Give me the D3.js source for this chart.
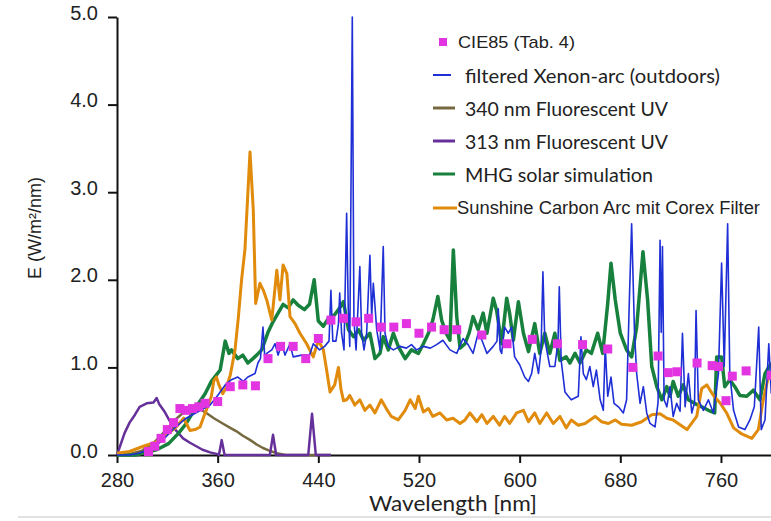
<!DOCTYPE html>
<html>
<head>
<meta charset="utf-8">
<script src="https://cdn.jsdelivr.net/npm/d3@7"></script>
<style>
  body { margin: 0; background: #fff; }
  svg { display: block; }
</style>
</head>
<body>
<script>
// tick labels
const xTicks = [280, 360, 440, 520, 600, 680, 760];
const yTicks = [0, 1, 2, 3, 4, 5];

// CIE85 (Tab. 4) points [nm, E]
const cie85 = [
  [305, 0.04], [310, 0.10], [315, 0.19], [320, 0.29], [325, 0.37], [330, 0.53],
  [335, 0.51], [340, 0.53], [345, 0.55], [350, 0.59], [360, 0.61], [370, 0.78],
  [380, 0.80], [390, 0.79], [400, 1.10], [410, 1.24], [420, 1.24], [430, 1.10],
  [440, 1.33], [450, 1.54], [460, 1.56], [470, 1.52], [480, 1.56], [490, 1.46],
  [500, 1.46], [510, 1.50], [520, 1.39], [530, 1.46], [540, 1.43], [550, 1.43],
  [570, 1.37], [590, 1.27], [610, 1.32], [630, 1.27], [650, 1.26], [670, 1.21],
  [690, 1.00], [710, 1.13], [718, 0.94], [725, 0.95], [741, 1.05], [753, 1.02],
  [758, 1.01], [764, 0.62], [769, 0.90], [780, 0.96], [800, 0.91]
];

// filtered Xenon-arc (outdoors)
const xenon = [
  [280, 0], [290, 0], [297, 0.02], [305, 0.06], [315, 0.15], [325, 0.3], [335, 0.42],
  [345, 0.5], [354, 0.57], [360, 0.68], [366, 0.8], [371, 0.86], [376, 0.89],
  [380.4, 0.84], [384, 0.89], [389.7, 0.93], [392, 1.05], [394, 1.1], [396, 1.46],
  [397.5, 1.1], [399, 1.16], [403, 1.2], [405.6, 1.27], [408, 1.14], [411, 1.27],
  [413.5, 1.14], [417.5, 1.27], [420, 1.12], [426.8, 1.14], [433, 1.14], [436, 1.27],
  [441, 1.2], [445, 1.24], [448.5, 1.3], [450, 1.88], [451.5, 1.3], [454, 1.3],
  [456, 1.5], [457, 1.85], [458.5, 1.39], [460.4, 1.2], [462.5, 2.76], [463.8, 1.66],
  [465, 1.24], [467, 5.0], [468.3, 1.54], [470, 1.2], [473, 2.15], [474.4, 1.39],
  [476.3, 1.2], [478.4, 1.39], [481, 2.28], [482.4, 1.58], [483.7, 1.96], [486.4, 1.43],
  [489, 1.2], [491.6, 2.38], [493, 1.39], [495.6, 1.24], [499.6, 1.2], [505, 1.24],
  [510, 1.22], [514, 1.26], [518, 1.2], [523.5, 1.24], [529, 1.22], [534, 1.26],
  [539, 1.31], [544.6, 1.2], [550, 1.16], [555, 1.33], [559, 1.26], [563, 1.16],
  [567, 1.39], [570, 1.31], [574, 1.16], [579, 1.24], [582, 1.3], [583, 1.67],
  [584.5, 1.2], [585.7, 1.16], [588, 1.46], [591, 1.39], [593.6, 1.46], [596, 1.12],
  [600, 1.03], [604, 0.89], [607, 0.84], [609.5, 0.93], [612, 1.16], [615, 0.93],
  [617, 1.2], [618.5, 2.09], [620, 1.3], [621, 1.24], [624, 1.01], [628, 1.01],
  [630.5, 1.3], [631.5, 1.92], [633, 1.08], [636, 0.72], [638.7, 0.67], [641, 0.63],
  [646.6, 0.67], [648.7, 1.35], [650.6, 0.93], [653, 0.86], [655.8, 1.01], [658.5, 0.78],
  [661, 0.97], [664, 0.63], [666.5, 0.51], [668, 1.24], [670, 0.67], [672.6, 0.89],
  [675, 0.59], [678.5, 0.55], [682.4, 0.48], [685, 0.63], [687.2, 1.77], [689, 2.64],
  [691.3, 1.39], [693, 0.93], [695.7, 0.59], [698.3, 0.78], [701, 0.48], [703.6, 0.36],
  [707.6, 0.32], [710, 0.6], [711.6, 2.45], [712.5, 1.4], [713.5, 2.38], [714.8, 0.63],
  [717, 0.55], [719.5, 0.78], [722, 0.44], [724.8, 0.59], [727.5, 0.5], [729.4, 1.39],
  [731.5, 0.55], [734.1, 0.93], [736.8, 0.48], [739, 0.6], [740.2, 1.65], [742, 0.63],
  [746, 0.51], [750, 0.63], [754, 0.48], [758, 0.93], [760.5, 2.19], [762.6, 1.01],
  [765.3, 2.64], [767, 0.93], [770, 0.51], [774, 0.32], [779, 0.29], [783, 0.4],
  [786.5, 0.55], [790, 1.46], [792, 0.29], [795, 0.4], [798, 1.27], [800, 0.7]
];

// 340 nm Fluorescent UV
const uv340 = [
  [280, 0], [290, 0.01], [300, 0.05], [310, 0.15], [318, 0.27], [326, 0.4], [334, 0.5],
  [340, 0.55], [345, 0.53], [351, 0.48], [357, 0.42], [364, 0.36], [370, 0.31],
  [375, 0.27], [380, 0.22], [386, 0.17], [391, 0.12], [396, 0.08], [401, 0.05],
  [407, 0.02], [414, 0], [450, 0]
];

// 313 nm Fluorescent UV
const uv313 = [
  [280, 0], [286, 0.25], [290, 0.37], [294.3, 0.46], [298, 0.55], [303.6, 0.59],
  [309, 0.6], [311.5, 0.65], [313.6, 0.58], [318, 0.49], [324.5, 0.32], [332.5, 0.19],
  [338, 0.14], [343, 0.1], [348, 0.06], [354, 0.03], [360, 0.01], [361, 0],
  [363.2, 0.17], [365.5, 0], [401.5, 0], [404, 0.23], [406.5, 0], [432, 0],
  [435, 0.47], [438, 0], [450, 0]
];

// MHG solar simulation
const mhg = [
  [280, 0], [295, 0], [300, 0.02], [311.5, 0.06], [321, 0.13], [329, 0.25], [335, 0.36],
  [343, 0.55], [350, 0.7], [355, 0.84], [362, 0.97], [366, 1.3], [369, 1.16], [371, 1.2],
  [376, 1.1], [380, 1.14], [384, 1.05], [388, 1.1], [391, 1.14], [395, 1.2], [400, 1.4],
  [404, 1.52], [408, 1.62], [412, 1.72], [416, 1.68], [420, 1.77], [424, 1.71],
  [429, 1.66], [433, 1.72], [436.7, 2.0], [440, 1.53], [444, 1.47], [448, 1.56],
  [453, 1.6], [458, 1.7], [460, 1.75], [464, 1.43], [468, 1.35], [472, 1.43], [476, 1.31],
  [481, 1.39], [485, 1.1], [489, 1.16], [491.6, 1.35], [495.6, 1.2], [499.6, 1.39],
  [503.5, 1.24], [509, 1.1], [514, 1.2], [519.5, 1.16], [523.5, 1.27], [527.5, 1.39],
  [531, 1.54], [535, 1.81], [538, 1.54], [541.5, 1.39], [544.6, 1.31], [547.3, 2.34],
  [550, 1.58], [552.6, 1.22], [556.6, 1.27], [560, 1.4], [563, 1.58], [567, 1.43],
  [571, 1.62], [574, 1.39], [579, 1.79], [581.7, 1.65], [585.7, 1.27], [589.7, 1.79],
  [592, 1.62], [595, 1.31], [599, 1.75], [603, 1.39], [607, 1.18], [612, 1.5], [616, 1.16],
  [620, 1.39], [624, 1.16], [628, 1.39], [632, 1.08], [637, 1.12], [640, 1.05], [644, 1.16],
  [648, 1.05], [653, 1.2], [657, 1.16], [662, 1.39], [666, 1.16], [670, 1.73],
  [672.6, 2.19], [676, 1.77], [680, 1.39], [685, 1.2], [689, 1.12], [693, 1.46],
  [698, 2.32], [701.7, 1.77], [705, 1.01], [709, 0.78], [713, 0.63], [717, 0.78],
  [719.5, 0.67], [722, 0.84], [726, 0.67], [730, 0.8], [734, 0.63], [739, 0.59],
  [744.7, 0.55], [750, 0.51], [755, 0.48], [756.6, 1.12], [760.5, 1.12], [763, 0.78],
  [767, 0.86], [771, 0.78], [775, 0.68], [780.5, 0.67], [785.7, 0.74], [791, 0.63],
  [795, 0.93], [800, 1.05]
];

// Sunshine Carbon Arc mit Corex Filter
const carbonArc = [
  [280, 0.02], [290, 0.04], [301, 0.1], [311.5, 0.15], [321, 0.25], [327, 0.32],
  [333, 0.42], [338, 0.28], [342, 0.29], [346, 0.32], [349, 0.44], [352.6, 0.57],
  [355, 0.67], [357, 0.85], [359, 0.89], [361, 0.8], [364, 0.7], [367, 0.78], [370, 0.91],
  [373.8, 1.2], [376.5, 1.58], [379, 2.0], [381.7, 2.35], [385.7, 3.46], [388.3, 2.8],
  [390.2, 1.73], [393.6, 1.96], [396.3, 1.88], [399, 1.77], [403, 1.54], [407, 2.11],
  [409.5, 1.77], [412, 2.17], [415, 2.07], [417.5, 1.58], [421.5, 1.5], [425.4, 1.39],
  [430.7, 1.27], [436, 1.12], [440, 1.31], [444, 1.2], [446.6, 0.97], [449.3, 0.72],
  [453, 0.8], [456, 1.0], [458, 0.75], [460, 0.62], [462.5, 0.63], [465, 0.68], [469, 0.57],
  [473, 0.63], [477, 0.51], [481, 0.57], [485, 0.48], [490, 0.63], [494, 0.53], [498, 0.44],
  [503.5, 0.4], [509, 0.51], [513, 0.63], [517, 0.53], [519.5, 0.67], [523.5, 0.49],
  [527.5, 0.53], [531, 0.44], [536.7, 0.48], [542, 0.4], [547, 0.42], [552.6, 0.36],
  [556.6, 0.4], [560.5, 0.48], [566, 0.38], [570, 0.46], [574, 0.36], [579, 0.44],
  [584, 0.34], [588, 0.44], [592, 0.36], [597.6, 0.48], [603, 0.51], [607, 0.38],
  [612, 0.48], [616, 0.36], [621.5, 0.48], [626.7, 0.36], [632, 0.44], [637, 0.31],
  [641, 0.4], [646.6, 0.34], [652, 0.36], [660, 0.44], [665, 0.38], [670.5, 0.36],
  [676, 0.4], [681, 0.35], [689, 0.34], [697, 0.38], [705, 0.46], [711.6, 0.47],
  [717, 0.42], [722, 0.4], [726, 0.36], [733, 0.29], [740.7, 0.44], [744.7, 0.76],
  [748.7, 0.8], [754, 0.68], [759, 0.6], [764.5, 0.48], [770, 0.31], [776.5, 0.24],
  [784.5, 0.19], [789.7, 0.29], [793.6, 0.63], [797.6, 0.89], [800, 0.92]
];

const width = 771, height = 521;

const svg = d3.select("body")
  .append("svg")
  .attr("width", width)
  .attr("height", height);

const x = d3.scaleLinear().domain([280, 800]).range([117, 771.3]);
const y = d3.scaleLinear().domain([0, 5]).range([455, 17]);

// axes
const gx = svg.append("g")
  .attr("transform", "translate(0,455)")
  .call(d3.axisBottom(x).tickValues(xTicks).tickSize(8).tickPadding(10).tickSizeOuter(0));

const gy = svg.append("g")
  .attr("transform", "translate(117,0)")
  .call(d3.axisLeft(y).tickValues(yTicks).tickFormat(d3.format(".1f"))
    .tickSize(9).tickPadding(10).tickSizeOuter(0));

[gx, gy].forEach(g => {
  g.select(".domain").attr("stroke", "#111").attr("stroke-width", 2);
  g.selectAll(".tick line").attr("stroke", "#111").attr("stroke-width", 2);
  g.selectAll(".tick text")
    .attr("fill", "#222")
    .style("font-family", "'Liberation Sans', Arial, sans-serif")
    .style("font-size", "20px");
});
gy.selectAll(".tick text").attr("dy", "0.1em");

// axis titles
svg.append("text")
  .attr("transform", "translate(35,228) rotate(-90)")
  .attr("text-anchor", "middle")
  .attr("dominant-baseline", "central")
  .style("font-family", "'Liberation Sans', Arial, sans-serif")
  .style("font-size", "18px")
  .attr("fill", "#222")
  .text("E (W/m²/nm)");

svg.append("text")
  .attr("x", 369)
  .attr("y", 511)
  .attr("textLength", 168)
  .attr("lengthAdjust", "spacingAndGlyphs")
  .style("font-family", "Lato, sans-serif")
  .style("font-size", "22px")
  .attr("fill", "#222")
  .text("Wavelength [nm]");

// the picture is cut at the bottom by a thin grey rule
svg.append("rect").attr("x", 0).attr("y", 517).attr("width", width).attr("height", 4).attr("fill", "#fff");
svg.append("line")
  .attr("x1", 18).attr("x2", width).attr("y1", 517).attr("y2", 517)
  .attr("stroke", "#c4c4c4").attr("stroke-width", 1);

// series lines
const line = d3.line().x(d => x(d[0])).y(d => y(d[1]));

const series = [
  { data: uv340, color: "#77693f", w: 2.5 },
  { data: uv313, color: "#66309a", w: 2.5 },
  { data: mhg, color: "#16803c", w: 3.5 },
  { data: carbonArc, color: "#e08b0c", w: 3 },
  { data: xenon, color: "#1f2fd6", w: 1.6 }
];

series.forEach(s => {
  svg.append("path")
    .datum(s.data)
    .attr("d", line)
    .attr("fill", "none")
    .attr("stroke", s.color)
    .attr("stroke-width", s.w)
    .attr("stroke-linejoin", "round");
});

svg.selectAll(".cie")
  .data(cie85)
  .join("rect")
  .attr("class", "cie")
  .attr("x", d => x(d[0]) - 4.5)
  .attr("y", d => y(d[1]) - 4.5)
  .attr("width", 9)
  .attr("height", 9)
  .attr("fill", "#e234e0");

// legend
const legend = svg.append("g");
legend.append("rect").attr("x", 439).attr("y", 38).attr("width", 8).attr("height", 8).attr("fill", "#e234e0");
legend.append("text").attr("x", 458).attr("y", 42).attr("dominant-baseline", "central")
  .attr("textLength", 117).attr("lengthAdjust", "spacingAndGlyphs")
  .style("font-family", "'Liberation Sans', Arial, sans-serif").style("font-size", "17px")
  .attr("fill", "#222").text("CIE85 (Tab. 4)");

const legendRows = [
  { y: 75, color: "#1f2fd6", w: 2, x2: 451, label: "filtered Xenon-arc (outdoors)", len: 255 },
  { y: 108, color: "#77693f", w: 3, x2: 455, label: "340 nm Fluorescent UV", len: 203 },
  { y: 141, color: "#66309a", w: 3, x2: 455, label: "313 nm Fluorescent UV", len: 203 },
  { y: 174, color: "#16803c", w: 3, x2: 455, label: "MHG solar simulation", len: 188 }
];

legendRows.forEach(r => {
  legend.append("line").attr("x1", 433).attr("x2", r.x2).attr("y1", r.y).attr("y2", r.y)
    .attr("stroke", r.color).attr("stroke-width", r.w);
  legend.append("text").attr("x", 465).attr("y", r.y).attr("dominant-baseline", "central")
    .attr("textLength", r.len).attr("lengthAdjust", "spacingAndGlyphs")
    .style("font-family", "Lato, sans-serif").style("font-size", "20px")
    .attr("fill", "#222").text(r.label);
});

legend.append("line").attr("x1", 433).attr("x2", 457).attr("y1", 208).attr("y2", 208)
  .attr("stroke", "#e08b0c").attr("stroke-width", 3);
legend.append("text").attr("x", 457).attr("y", 208).attr("dominant-baseline", "central")
  .attr("textLength", 303).attr("lengthAdjust", "spacingAndGlyphs")
  .style("font-family", "'Liberation Sans', Arial, sans-serif").style("font-size", "17.5px")
  .attr("fill", "#222").text("Sunshine Carbon Arc mit Corex Filter");
</script>
</body>
</html>
